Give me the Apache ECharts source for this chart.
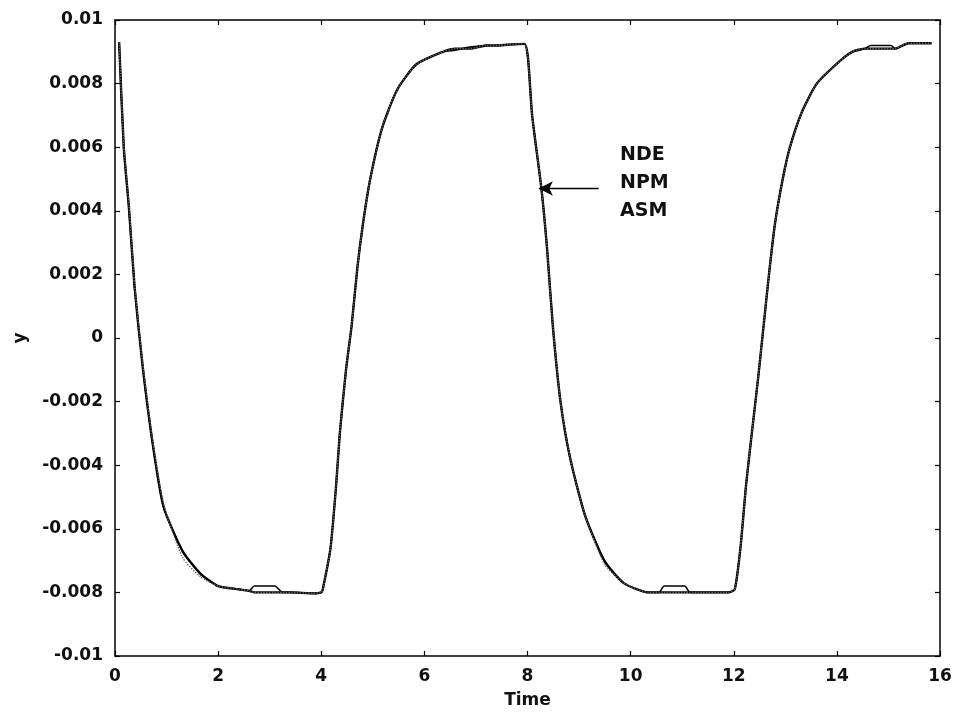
<!DOCTYPE html>
<html>
<head>
<meta charset="utf-8">
<script src="https://cdn.jsdelivr.net/npm/echarts@6/dist/echarts.min.js"></script>
<style>
html,body{margin:0;padding:0;background:#fff;}
#chart{width:956px;height:721px;}
</style>
</head>
<body>
<div id="chart"></div>
<script>
// Time samples
const time = [0.08, 0.17, 0.27, 0.38, 0.53, 0.72, 0.94, 1.31, 1.65, 2.0, 2.4, 2.6, 2.7, 3.1, 3.25, 3.4, 3.85, 4.0,
  4.03, 4.18, 4.29, 4.36, 4.48, 4.59, 4.70, 4.81, 4.95, 5.18, 5.47, 5.84, 6.36, 6.6, 6.88, 7.2, 7.47, 7.6, 7.94,
  8.01, 8.09, 8.27, 8.38, 8.49, 8.64, 8.83, 9.12, 9.49, 9.86, 10.35, 10.55, 10.65, 11.05, 11.15, 11.32, 11.9,
  12.02, 12.13, 12.24, 12.35, 12.47, 12.58, 12.69, 12.80, 12.95, 13.09, 13.32, 13.61, 14.05, 14.3, 14.55, 14.65,
  15.05, 15.13, 15.39, 15.84];

const nde = [0.0093, 0.0060, 0.0041, 0.0016, -0.0008, -0.0032, -0.0053, -0.0067, -0.0074, -0.0078, -0.0079, -0.00795, -0.0080, -0.0080, -0.0080, -0.0080, -0.00803, -0.0080,
  -0.0079, -0.0066, -0.0046, -0.0030, -0.0010, 0.0004, 0.0022, 0.0036, 0.0050, 0.0066, 0.0078, 0.0086, 0.0090, 0.0091, 0.0091, 0.0092, 0.0092, 0.00922, 0.00925,
  0.0088, 0.0070, 0.0047, 0.0028, 0.0004, -0.0020, -0.0038, -0.0056, -0.0070, -0.0077, -0.0080, -0.0080, -0.0080, -0.0080, -0.0080, -0.0080, -0.0080,
  -0.0079, -0.0066, -0.0046, -0.0030, -0.0013, 0.0004, 0.0021, 0.0036, 0.0050, 0.0060, 0.0071, 0.0080, 0.0087, 0.0090, 0.0091, 0.0091,
  0.0091, 0.0091, 0.00927, 0.00927];

const npm = [0.0093, 0.0060, 0.0041, 0.0016, -0.0008, -0.0032, -0.0053, -0.0067, -0.0074, -0.0078, -0.0079, -0.00795, -0.0078, -0.0078, -0.0080, -0.0080, -0.00803, -0.0080,
  -0.0079, -0.0066, -0.0046, -0.0030, -0.0010, 0.0004, 0.0022, 0.0036, 0.0050, 0.0066, 0.0078, 0.0086, 0.0090, 0.00905, 0.00915, 0.0092, 0.0092, 0.00922, 0.00925,
  0.0088, 0.0070, 0.0047, 0.0028, 0.0004, -0.0020, -0.0038, -0.0056, -0.0070, -0.0077, -0.0080, -0.0080, -0.0078, -0.0078, -0.0080, -0.0080, -0.0080,
  -0.0079, -0.0066, -0.0046, -0.0030, -0.0013, 0.0004, 0.0021, 0.0036, 0.0050, 0.0060, 0.0071, 0.0080, 0.0087, 0.0090, 0.0091, 0.0092,
  0.0092, 0.0091, 0.00927, 0.00927];

const asm = [0.0093, 0.0061, 0.0042, 0.0017, -0.0007, -0.0031, -0.0052, -0.0069, -0.0075, -0.0078, -0.0079, -0.00795, -0.0080, -0.0080, -0.0080, -0.0080, -0.00803, -0.0080,
  -0.0079, -0.0066, -0.0046, -0.0030, -0.0010, 0.0004, 0.0022, 0.0036, 0.0050, 0.0066, 0.0078, 0.0086, 0.0090, 0.0091, 0.0091, 0.0092, 0.0092, 0.00922, 0.00925,
  0.0088, 0.0070, 0.0047, 0.0028, 0.0004, -0.0020, -0.0038, -0.0056, -0.0071, -0.0077, -0.0080, -0.0080, -0.0080, -0.0080, -0.0080, -0.0080, -0.0080,
  -0.0079, -0.0066, -0.0046, -0.0030, -0.0013, 0.0004, 0.0021, 0.0036, 0.0050, 0.0060, 0.0071, 0.0080, 0.0087, 0.0090, 0.0091, 0.0091,
  0.0091, 0.0091, 0.00927, 0.00927];

const seriesNames = ['NDE', 'NPM', 'ASM'];
const xTicks = [0, 2, 4, 6, 8, 10, 12, 14, 16];
const yTickLabels = ['-0.01', '-0.008', '-0.006', '-0.004', '-0.002', '0', '0.002', '0.004', '0.006', '0.008', '0.01'];

const arrowFrom = [9.38, 0.0047];
const arrowTo = [8.22, 0.0047];

const FONT = 'DejaVu Sans';
const labelStyle = {color: '#111', fontFamily: FONT, fontSize: 17, fontWeight: 'bold'};

function pairs(vals) { return time.map((t, i) => [t, vals[i]]); }
function yFmt(v) {
  const r = Math.round(v * 1000);
  const idx = r / 2 + 5;
  return yTickLabels[idx] !== undefined ? yTickLabels[idx] : '';
}

const chart = echarts.init(document.getElementById('chart'), null, {renderer: 'canvas'});
const axisLine = {show: true, onZero: false, lineStyle: {color: '#000', width: 1.5}};
const axisTick = {show: true, inside: true, length: 5, lineStyle: {color: '#000', width: 1.2}};

chart.setOption({
  backgroundColor: '#fff',
  animation: false,
  grid: {left: 115, right: 16, top: 20, bottom: 65},
  xAxis: [
    {type: 'value', min: 0, max: 16, interval: 2, position: 'bottom',
      name: 'Time', nameLocation: 'middle', nameGap: 36,
      nameTextStyle: labelStyle,
      axisLine, axisTick, splitLine: {show: false},
      axisLabel: Object.assign({margin: 12}, labelStyle)},
    {type: 'value', min: 0, max: 16, interval: 2, position: 'top',
      axisLine, axisTick, splitLine: {show: false}, axisLabel: {show: false}}
  ],
  yAxis: [
    {type: 'value', min: -0.01, max: 0.01, interval: 0.002, position: 'left',
      name: 'y', nameLocation: 'middle', nameGap: 86, nameRotate: 90,
      nameTextStyle: labelStyle,
      axisLine, axisTick, splitLine: {show: false},
      axisLabel: Object.assign({margin: 12, formatter: yFmt}, labelStyle)},
    {type: 'value', min: -0.01, max: 0.01, interval: 0.002, position: 'right',
      axisLine, axisTick, splitLine: {show: false}, axisLabel: {show: false}}
  ],
  series: [
    {name: seriesNames[0], type: 'line', data: pairs(nde), showSymbol: false, smooth: 0.2,
      lineStyle: {color: '#000', width: 2.4},
      markLine: {silent: true, symbol: ['none', 'arrow'], symbolSize: [11, 14],
        label: {show: false}, lineStyle: {color: '#000', width: 1.3, type: 'solid'},
        data: [[{coord: arrowFrom}, {coord: arrowTo}]]}},
    {name: seriesNames[1], type: 'line', data: pairs(npm), showSymbol: false, smooth: 0.2,
      lineStyle: {color: '#000', width: 1.6}},
    {name: seriesNames[2], type: 'line', data: pairs(asm), showSymbol: false, smooth: 0.2,
      lineStyle: {color: '#666', width: 1.4, type: 'dotted'}}
  ],
  graphic: [
    {type: 'text', left: 620, top: 146, style: {text: seriesNames[0], fill: '#111', font: 'bold 19px "DejaVu Sans"'}},
    {type: 'text', left: 620, top: 174, style: {text: seriesNames[1], fill: '#111', font: 'bold 19px "DejaVu Sans"'}},
    {type: 'text', left: 620, top: 202, style: {text: seriesNames[2], fill: '#111', font: 'bold 19px "DejaVu Sans"'}}
  ]
});
</script>
</body>
</html>
